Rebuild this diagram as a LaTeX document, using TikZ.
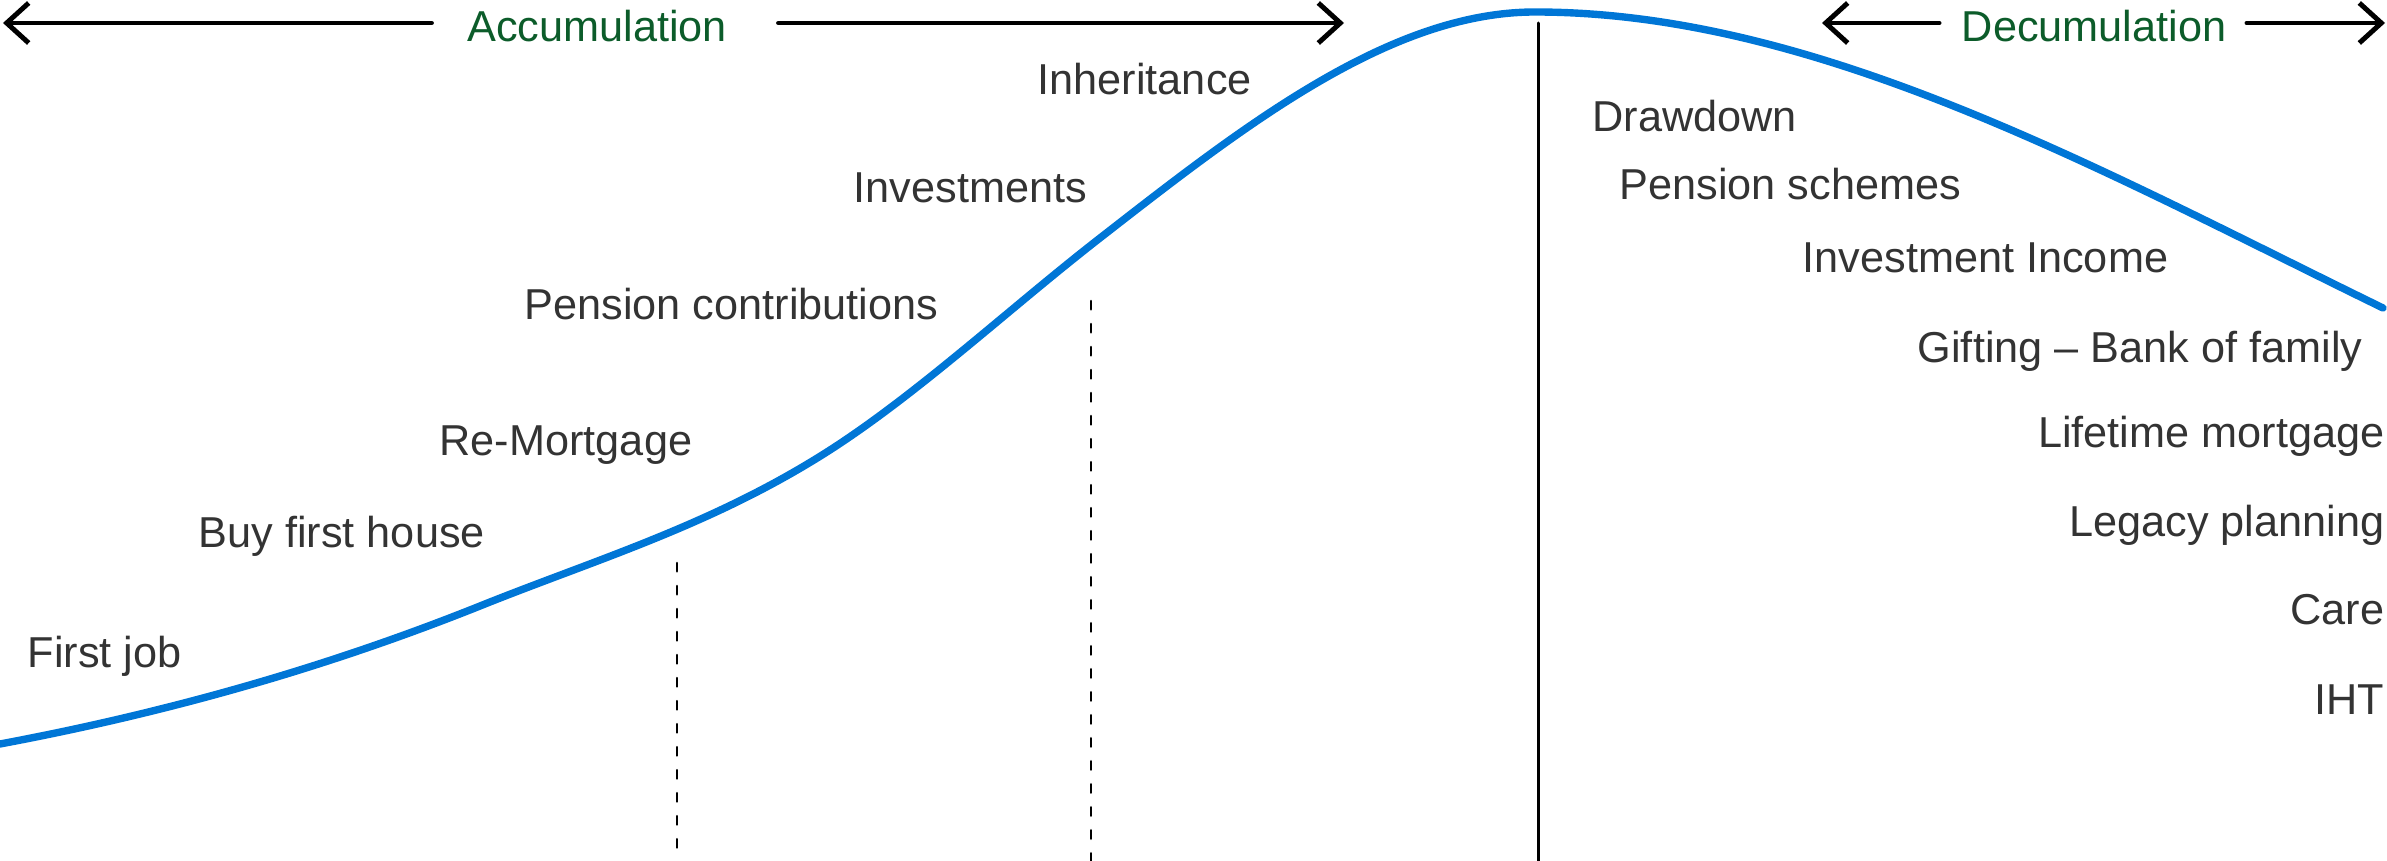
\documentclass[tikz,border=0pt]{standalone}
\usepackage{fontspec}
\setmainfont{Liberation Sans}
\usetikzlibrary{arrows.meta}
\definecolor{lifeblue}{RGB}{0,118,214}
\definecolor{phasegreen}{RGB}{12,92,42}
\definecolor{labelgrey}{RGB}{51,51,51}
\tikzset{
  stage/.style={inner sep=0pt, text=labelgrey, font=\fontsize{12.3}{14}\selectfont},
  phase/.style={line width=1.4pt, -{Straight Barb[length=0.22cm,width=0.4cm]}},
  wealth/.style={lifeblue, line width=2.1pt},
  event/.style={line width=0.75pt, dash pattern=on 0.084cm off 0.146cm}
}
\begin{document}
\begin{tikzpicture}[line join = round, line cap = round, x=0.01cm, y=-0.01cm]
	\def \xmax{2387};
	\def \ymax{861};
	\useasboundingbox (0,0) rectangle (\xmax,\ymax);
	% phases along the top
	\node[stage, text=phasegreen, anchor=base] (acc) at (597,42) {Accumulation};
	\node[stage, text=phasegreen, anchor=base] (dec) at (2094,42) {Decumulation};
	\coordinate (accL) at (3,23);
	\coordinate (accR) at (1344,23);
	\coordinate (decL) at (1822,23);
	\coordinate (decR) at (2385,23);
	\path (acc.west |- accL) coordinate (accW) (acc.east |- accR) coordinate (accE);
	\path (dec.west |- decL) coordinate (decW) (dec.east |- decR) coordinate (decE);
	\draw[phase] ([xshift=-0.35cm]accW) -- (accL);
	\draw[phase] ([xshift=0.51cm]accE) -- (accR);
	\draw[phase] ([xshift=-0.22cm]decW) -- (decL);
	\draw[phase] ([xshift=0.2cm]decE) -- (decR);
	% retirement and the two events
	\draw[line width=0.85pt] (1538,23) -- (1538,\ymax);
	\draw[event] (677,563) -- (677,\ymax);
	\draw[event] (1091,301) -- (1091,\ymax);
	\draw[wealth] (0,744) .. controls (160,714) and (320,670) .. (480,606)
		.. controls (597,559) and (713,525) .. (830,450)
		.. controls (920,392) and (1010,308) .. (1100,238)
		.. controls (1245,125) and (1390,12) .. (1535,12)
		.. controls (1818,12) and (2100,170) .. (2383,308);
	% accumulation labels
	\node[stage, anchor=base west] (job) at (27,667) {First job};
	\node[stage, anchor=base west] (house) at (198,548) {Buy first house};
	\node[stage, anchor=base west] (remortgage) at (439,456) {Re-Mortgage};
	\node[stage, anchor=base west] (contrib) at (524,320) {Pension contributions};
	\node[stage, anchor=base west] (invest) at (853,203) {Investments};
	\node[stage, anchor=base west] (inherit) at (1037,95) {Inheritance};
	% decumulation labels
	\node[stage, anchor=base west] (drawdown) at (1592,132) {Drawdown};
	\node[stage, anchor=base west] (schemes) at (1619,200) {Pension schemes};
	\node[stage, anchor=base west] (income) at (1802,273) {Investment Income};
	\node[stage, anchor=base west] (gifting) at (1917,363) {Gifting -- Bank of family};
	\node[stage, anchor=base east] (lifetime) at (2385,448) {Lifetime mortgage};
	\node[stage, anchor=base east] (legacy) at (2385,537) {Legacy planning};
	\node[stage, anchor=base east] (care) at (2385,625) {Care};
	\node[stage, anchor=base east] (iht) at (2385,715) {IHT};
\end{tikzpicture}
\end{document}
